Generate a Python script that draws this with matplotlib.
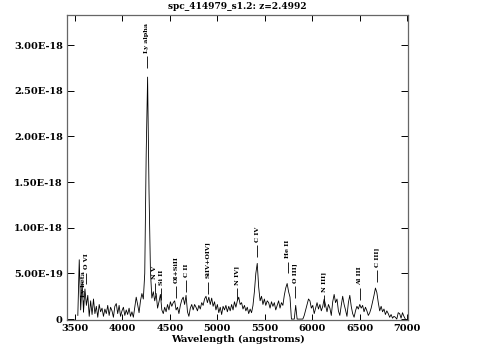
import numpy as np
from matplotlib import pyplot as plt
from matplotlib.ticker import FuncFormatter

# Spectrum, flux in units of 1e-19, sampled every 15 angstroms from 3530
wave_start = 3530
wave_step = 15
flux_e19 = [
    0.4, 6.5, 1.0, 4.0, 0.8, 3.3, 1.5, 2.6, 0.3, 2.0,
    0.5, 2.2, 0.6, 1.4, 0.2, 1.6, 0.8, 1.2, 0.3, 1.1,
    0.6, 1.5, 0.4, 1.3, 0.9, 0.2, 1.4, 1.7, 0.6, 1.5,
    0.3, 0.9, 1.3, 0.4, 1.0, 0.5, 1.2, 0.3, 0.8, 0.2,
    1.3, 2.4, 1.6, 0.7, 2.0, 2.8, 2.2, 5.0, 18.0, 26.5,
    14.0, 5.2, 2.3, 3.0, 2.0, 2.8, 1.2, 1.9, 2.7, 1.0,
    0.6, 1.3, 0.8, 1.6, 1.0, 1.9, 1.4, 1.8, 2.0, 1.0,
    1.3, 0.6, 1.5, 2.1, 2.4, 1.6, 2.6, 0.8, 0.3, 1.2,
    1.6, 1.0, 1.6, 1.3, 0.9, 1.5, 1.1, 1.8, 1.5, 2.2,
    2.5, 1.8, 2.4, 1.6, 2.3, 1.4, 1.9, 1.0, 1.6, 0.7,
    1.3, 0.5, 1.4, 1.0, 1.5, 0.8, 1.4, 0.9, 1.6, 1.0,
    1.9, 1.3, 2.0, 2.4, 1.6, 1.8, 1.1, 1.5, 0.9, 1.3,
    0.6, 1.1, 0.7, 1.5, 3.0, 5.0, 6.1, 3.5, 2.0, 2.5,
    1.6, 2.2, 1.5, 2.0, 1.8, 1.2, 1.9, 1.4, 1.8, 1.0,
    1.5, 2.0, 1.2, 1.8, 1.5, 2.6, 3.4, 3.9, 3.0, 2.4,
    0.0, 0.0, 0.0, 1.5, 0.0, 0.0, 0.0, 0.0, 0.0, 0.4,
    1.0, 1.6, 2.2, 2.0, 1.2, 1.5, 0.6, 1.2, 1.8, 1.1,
    1.6, 0.9, 1.4, 2.2, 1.5, 0.8, 1.6, 1.2, 0.4, 1.9,
    2.7, 1.8, 2.2, 0.9, 0.4, 1.5, 2.5, 1.6, 1.0, 0.3,
    1.8, 2.6, 1.4, 0.6, 0.2, 0.9, 1.4, 1.1, 1.6, 1.2,
    1.5, 0.8, 1.3, 0.9, 0.4, 0.7, 1.2, 1.9, 2.6, 3.4,
    2.9, 1.8, 0.9, 1.4, 0.8, 1.1, 0.5, 0.9, 0.6, 0.2,
    0.5, 0.1, 0.3, 0.2, 0.0, 0.7, 0.6, 0.1, 0.7, 0.3,
    0.0,
]

redshift = 2.4992
line_names = ['Ly beta', 'O VI', 'Ly alpha', 'N V', 'Si II', 'OI+SiII', 'C II',
              'SiIV+OIV]', 'N IV]', 'C IV', 'He II', 'O III]', 'N III]',
              'Al III', 'C III]']
line_rest = [1025.7, 1034.0, 1215.7, 1240.1, 1260.4, 1304.5, 1335.3,
             1400.0, 1486.5, 1549.1, 1640.4, 1663.5, 1750.0, 1857.4, 1908.7]
# flux level (1e-19) where each marker tick starts
line_level = [0.8, 3.8, 27.5, 2.7, 2.1, 2.3, 3.0,
              2.8, 2.1, 6.8, 5.0, 2.3, 1.3, 2.1, 4.1]

x_ticks = [3500, 4000, 4500, 5000, 5500, 6000, 6500, 7000]
y_ticks = [0, 5e-19, 1e-18, 1.5e-18, 2e-18, 2.5e-18, 3e-18]

flux = np.array(flux_e19) * 1e-19
wave = wave_start + wave_step * np.arange(len(flux))

fig = plt.figure(figsize=(4.83, 3.58), dpi=100)
ax = fig.add_axes([67 / 483, 1 - 320 / 358, 341 / 483, 305 / 358])

ax.plot(wave, flux, color='black', lw=0.6)

tick_len = 1.3e-19
gap = 0.35e-19
for name, rest, lev in zip(line_names, line_rest, line_level):
    obs = rest * (1 + redshift)
    y0 = lev * 1e-19
    ax.vlines(obs, y0, y0 + tick_len, color='black', lw=0.6)
    ax.text(obs, y0 + tick_len + gap, name, rotation=90, ha='center', va='bottom',
            fontsize=4.6, fontweight='bold', family='DejaVu Serif')

ax.set_xlim(3416, 7008)
ax.set_ylim(-0.01e-18, 3.33e-18)
ax.set_xticks(x_ticks)
ax.set_yticks(y_ticks)
ax.yaxis.set_major_formatter(FuncFormatter(lambda v, p: '0' if abs(v) < 1e-25 else f'{v:.2E}'))

ax.tick_params(axis='x', direction='in', top=True, length=4, width=0.7, pad=3,
               labelsize=7)
ax.tick_params(axis='y', direction='in', right=True, length=5, width=0.7, pad=3,
               labelsize=7)
for lab in ax.get_xticklabels() + ax.get_yticklabels():
    lab.set_fontweight('bold')
    lab.set_family('DejaVu Serif')
for sp in ax.spines.values():
    sp.set_color('0.4')
    sp.set_linewidth(0.9)

ax.set_xlabel('Wavelength (angstroms)', fontsize=7, fontweight='bold',
              family='DejaVu Serif', labelpad=1)
ax.set_title('spc_414979_s1.2: z=2.4992', fontsize=6.5, fontweight='bold',
             family='DejaVu Serif', pad=4)

fig.savefig('out.png', dpi=100)
